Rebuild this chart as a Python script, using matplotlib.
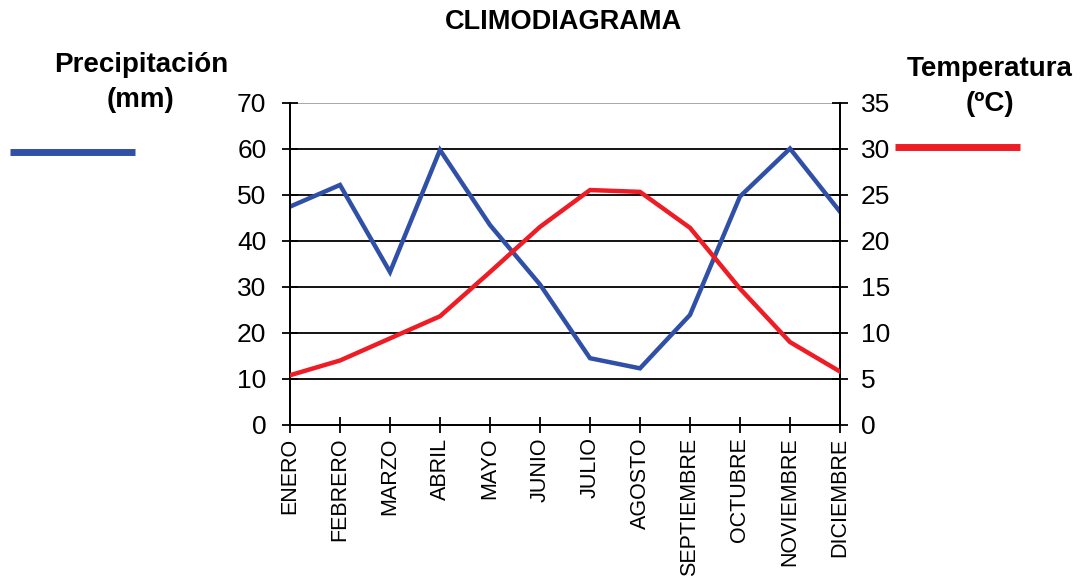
import matplotlib
matplotlib.use("Agg")
import matplotlib.pyplot as plt
from matplotlib.lines import Line2D

plt.rcParams['font.family'] = ['Liberation Sans', 'DejaVu Sans']

months = ["ENERO", "FEBRERO", "MARZO", "ABRIL", "MAYO", "JUNIO", "JULIO",
          "AGOSTO", "SEPTIEMBRE", "OCTUBRE", "NOVIEMBRE", "DICIEMBRE"]
precip_mm = [47.4, 52.1, 33.2, 59.7, 43.4, 30.5, 14.5, 12.3, 23.9, 49.6, 60.0, 46.3]
temp_c = [5.4, 7.0, 9.4, 11.8, 16.6, 21.5, 25.5, 25.3, 21.4, 14.8, 9.0, 5.8]
left_ticks = [0, 10, 20, 30, 40, 50, 60, 70]
right_ticks = [0, 5, 10, 15, 20, 25, 30, 35]

blue = "#3050A8"
red = "#EE1C25"

fig = plt.figure(figsize=(10.81, 5.78), dpi=100)
ax = fig.add_axes([290/1081, 1-425/578, 550/1081, 322.5/578])
ax2 = ax.twinx()

x = list(range(len(months)))
ax.set_xlim(0, len(months)-1)
ax.set_ylim(0, 70)
ax2.set_ylim(0, 35)

for t in left_ticks[1:-1]:
    ax.axhline(t, color="black", lw=1.3, zorder=1)
ax.axhline(70, color="#999999", lw=1.2, zorder=1)

ax.plot(x, precip_mm, color=blue, lw=3.2, zorder=3, solid_joinstyle='miter')
ax2.plot(x, temp_c, color=red, lw=3.2, zorder=3, solid_joinstyle='miter')

ax.set_yticks(left_ticks)
ax.set_yticklabels([str(t) for t in left_ticks], fontsize=19)
ax2.set_yticks(right_ticks)
ax2.set_yticklabels([str(t) for t in right_ticks], fontsize=19)
ax.set_xticks(x)
ax.set_xticklabels(months, rotation=90, fontsize=15.5)

for a in (ax, ax2):
    a.tick_params(direction='inout', length=12, width=1.3, color='black')
    for s in a.spines.values():
        s.set_linewidth(1.3)
    a.spines['top'].set_visible(False)
ax.tick_params(axis='x', pad=3)
ax.tick_params(axis='y', pad=11)
ax2.tick_params(axis='y', pad=9)

fig.text(563/1081, 1-22/578, "CLIMODIAGRAMA", ha='center', va='center',
         fontsize=19.5, fontweight='bold')
fig.text(141/1081, 1-65/578, "Precipitación", ha='center', va='center',
         fontsize=20, fontweight='bold')
fig.text(141/1081, 1-100/578, "(mm)", ha='center', va='center',
         fontsize=20, fontweight='bold')
fig.text(990/1081, 1-69/578, "Temperatura", ha='center', va='center',
         fontsize=20, fontweight='bold')
fig.text(990/1081, 1-104/578, "(ºC)", ha='center', va='center',
         fontsize=20, fontweight='bold')

fig.add_artist(Line2D([10/1081, 135/1081], [1-152/578, 1-152/578],
                      color=blue, lw=5, solid_capstyle='butt'))
fig.add_artist(Line2D([895/1081, 1020/1081], [1-147/578, 1-147/578],
                      color=red, lw=5, solid_capstyle='butt'))

fig.savefig("out.png", dpi=100)
